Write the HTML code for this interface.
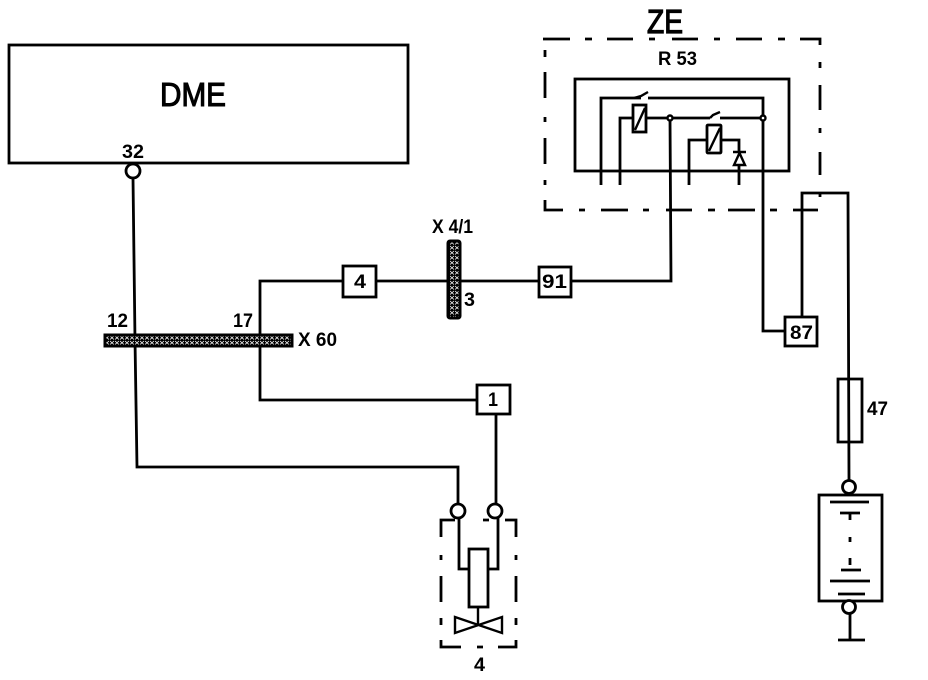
<!DOCTYPE html>
<html>
<head>
<meta charset="utf-8">
<style>
html,body{margin:0;padding:0;background:#fff;width:928px;height:680px;overflow:hidden}
svg{display:block}
text{font-family:"Liberation Sans",sans-serif;font-weight:bold;fill:#000;font-size:19.500px}
.w{fill:none;stroke:#000;stroke-width:2.800}
.t{fill:none;stroke:#000;stroke-width:2.400}
.b{fill:#fff;stroke:#000;stroke-width:2.800}
</style>
</head>
<body>
<svg width="928" height="680" viewBox="0 0 928 680" xmlns="http://www.w3.org/2000/svg">
<defs>
<pattern id="h" width="5" height="5" patternUnits="userSpaceOnUse">
<rect width="5" height="5" fill="#000"/>
<path d="M0 1L4 4.500M4 1L0 4.500" stroke="#fff" stroke-width="0.800"/>
</pattern>
</defs>
<rect width="928" height="680" fill="#fff"/>

<!-- DME -->
<rect x="9" y="45" width="399" height="118" class="b"/>
<text x="160" y="106" textLength="66" lengthAdjust="spacingAndGlyphs" style="font-size:33px;font-weight:normal;stroke:#000;stroke-width:1.100">DME</text>
<text x="122" y="158" textLength="22" lengthAdjust="spacingAndGlyphs">32</text>
<circle cx="133" cy="171" r="7" class="b"/>

<!-- Main wires -->
<path d="M133 178L135 340L137 467H458V504" class="w"/>
<path d="M260 340V281H343M376 281H447M461 281H539M571 281H671L670 118" class="w"/>
<path d="M260 340V400H477" class="w"/>
<path d="M496 414V504" class="w"/>

<!-- Connector X60 -->
<rect x="105" y="335" width="187" height="11" fill="url(#h)" stroke="#000" stroke-width="3"/>
<text x="107" y="327" textLength="21" lengthAdjust="spacingAndGlyphs">12</text>
<text x="233" y="327" textLength="20" lengthAdjust="spacingAndGlyphs">17</text>
<text x="298" y="346" textLength="39" lengthAdjust="spacingAndGlyphs">X 60</text>

<!-- Connector X4/1 -->
<rect x="448" y="241" width="12" height="77" rx="2" fill="url(#h)" stroke="#000" stroke-width="3"/>
<text x="432" y="233" textLength="41" lengthAdjust="spacingAndGlyphs">X 4/1</text>
<text x="464" y="306" textLength="11" lengthAdjust="spacingAndGlyphs">3</text>

<!-- Numbered boxes -->
<rect x="343" y="266" width="33" height="31" class="b"/>
<text x="354" y="288" textLength="12" lengthAdjust="spacingAndGlyphs">4</text>
<rect x="539" y="267" width="32" height="30" class="b"/>
<text x="542" y="288" textLength="25" lengthAdjust="spacingAndGlyphs">91</text>
<rect x="477" y="385" width="33" height="29" class="b"/>
<text x="488" y="406" textLength="10" lengthAdjust="spacingAndGlyphs">1</text>

<!-- ZE dashed box -->
<path d="M543 39H570M585 39H592M607 39H633M649 39H655M672 39H698M714 39H720M736 39H762M778 39H785M800 39H820V45M820 62V68M820 85V110M820 128V133M820 152V175M820 192V197M545 50V57M545 72V98M545 117V122M545 138V164M545 180V185M545 200V210H563M579 210H585M601 210H628M643 210H649M666 210H692M708 210H715M728 210H755M770 210H777M793 210H818" class="w"/>
<text x="647" y="33" textLength="36" lengthAdjust="spacingAndGlyphs" style="font-size:33px;font-weight:normal;stroke:#000;stroke-width:1.200">ZE</text>
<text x="658" y="65" textLength="39" lengthAdjust="spacingAndGlyphs">R 53</text>

<!-- R53 relay -->
<rect x="575" y="79" width="214" height="92" class="w"/>
<path d="M601 185V98H641M648 98H763V331H786" class="w"/>
<path d="M620 185V118H633M646 118H710M720 118H763" class="w"/>
<path d="M689 185V140H707M721 140H739V152M739 165V185" class="w"/>
<rect x="633" y="105" width="13" height="27" class="b"/>
<path d="M635 130L645 108" class="t"/>
<path d="M634 98L641 96L648 92" class="t"/>
<rect x="707" y="125" width="14" height="28" rx="1" class="b"/>
<path d="M709 151L720 128" class="t"/>
<path d="M710 118L713 115L720 112" class="t"/>
<circle cx="670" cy="118" r="2.500" fill="#fff" stroke="#000" stroke-width="2.400"/>
<circle cx="763" cy="118" r="2.500" fill="#fff" stroke="#000" stroke-width="2.400"/>
<path d="M733 152H746M739.500 153L734 165H745Z" class="t"/>

<!-- Right side -->
<path d="M802 317V193H848L849 480" class="w"/>
<rect x="785" y="317" width="32" height="29" class="b"/>
<text x="790" y="339" textLength="23" lengthAdjust="spacingAndGlyphs">87</text>
<path d="M838 379H862V442H838Z" class="w"/>
<text x="867" y="415" textLength="21" lengthAdjust="spacingAndGlyphs">47</text>

<!-- Battery -->
<circle cx="849" cy="487" r="6.500" class="b"/>
<rect x="819" y="495" width="63" height="106" class="b"/>
<path d="M830 502H869M840 513H860M850 513V520M850 537V542M850 558V565M841 570H861M830 581H870M838 594H865" class="w"/>
<circle cx="849" cy="607" r="6.500" class="b"/>
<path d="M850 614V640M838 640H865" class="w"/>

<!-- Actuator -->
<circle cx="458" cy="511" r="7" class="b"/>
<circle cx="495" cy="511" r="7" class="b"/>
<path d="M459 518V569H469M498 518V569H488" class="w"/>
<rect x="469" y="549" width="19" height="58" class="b"/>
<path d="M478 607V625" class="t"/>
<path d="M455 617L502 633V617L455 633Z" class="t"/>
<path d="M441 537V520H455M483 520H489M505 520H516V537M441 555V560M441 576V602M441 618V625M441 640V647H461M477 647H483M498 647H516V640M516 555V560M516 576V602M516 618V625" class="w"/>
<text x="474" y="671" textLength="11" lengthAdjust="spacingAndGlyphs">4</text>
</svg>
</body>
</html>
